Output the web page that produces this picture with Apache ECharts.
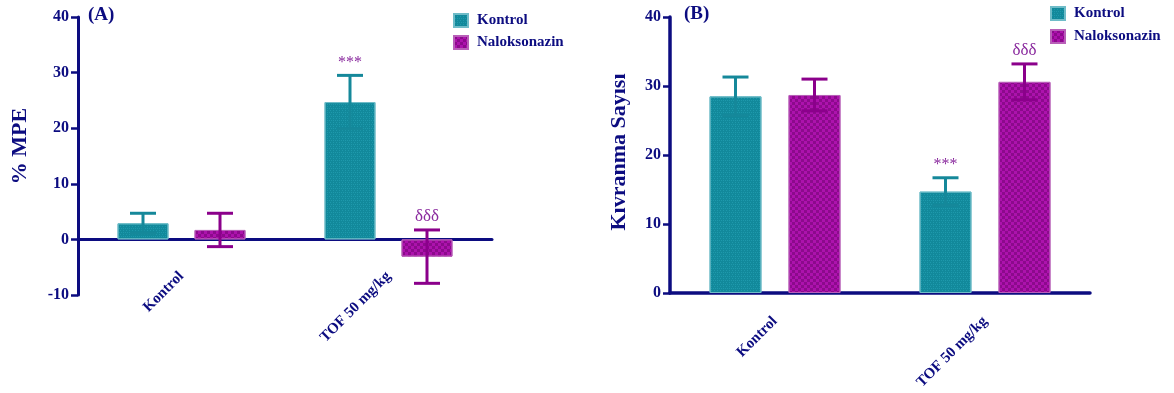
<!DOCTYPE html>
<html>
<head>
<meta charset="utf-8">
<script src="https://cdn.jsdelivr.net/npm/echarts@6/dist/echarts.min.js"></script>
<style>html,body{margin:0;padding:0;background:#fff}#c{width:1174px;height:393px}</style>
</head>
<body>
<div id="c"></div>
<script>
const categories = ['Kontrol', 'TOF 50 mg/kg'];
const seriesNames = ['Kontrol', 'Naloksonazin'];
// Panel A: % MPE
const mpeKontrol = [2.9, 24.7];
const mpeKontrolErr = [1.8, 4.8];
const mpeNalokson = [1.7, -3.1];
const mpeNaloksonErr = [3.0, 4.8];
const mpeSigKontrol = ['', '***'];
const mpeSigNalokson = ['', 'δδδ'];
// Panel B: Kıvranma Sayısı
const kivKontrol = [28.5, 14.7];
const kivKontrolErr = [2.8, 2.0];
const kivNalokson = [28.7, 30.6];
const kivNaloksonErr = [2.3, 2.6];
const kivSigKontrol = ['', '***'];
const kivSigNalokson = ['', 'δδδ'];
const yTicksA = [-10, 0, 10, 20, 30, 40];
const yTicksB = [0, 10, 20, 30, 40];

const NAVY = '#0c0c80';
const TEAL = '#12899b';
const MAG = '#8c0a8c';
const FONT = "'Liberation Serif', 'DejaVu Serif', serif";

const tealDecal = { symbol: 'rect', symbolSize: 1, color: 'rgba(40,165,185,0.55)',
  dashArrayX: [[1, 2], [0, 1, 1, 1, 1, 0]], dashArrayY: [1, 1], rotation: 0 };
const magDecal = { symbol: 'rect', symbolSize: 1, color: '#ad12ad',
  dashArrayX: [[3, 3], [0, 3, 3, 0]], dashArrayY: [3, 0], rotation: 0 };

const BW_A = 51, GAP_A = 26, BW_B = 52, GAP_B = 27;

function errSeries(name, axisIdx, vals, errs, sig, offset, color, sigSize) {
  return {
    type: 'custom', name: name, xAxisIndex: axisIdx, yAxisIndex: axisIdx, z: 5,
    silent: true,
    data: vals.map((v, i) => [i, v, errs[i]]),
    renderItem: function (params, api) {
      const i = api.value(0), v = api.value(1), e = api.value(2);
      const s = sig[i];
      const c = api.coord([i, v]);
      const hi = api.coord([i, v + e]);
      const lo = api.coord([i, v - e]);
      const x = c[0] + offset;
      const st = { stroke: color, lineWidth: 3 };
      const children = [
        { type: 'line', shape: { x1: x, y1: hi[1], x2: x, y2: lo[1] }, style: st },
        { type: 'line', shape: { x1: x - 13, y1: hi[1], x2: x + 13, y2: hi[1] }, style: st },
        { type: 'line', shape: { x1: x - 13, y1: lo[1], x2: x + 13, y2: lo[1] }, style: st }
      ];
      if (s) {
        children.push({ type: 'text', x: x, y: hi[1] - 13,
          style: { text: s, fill: '#8a2a9e', align: 'center', verticalAlign: 'middle',
            font: sigSize + 'px ' + FONT } });
      }
      return { type: 'group', children: children };
    }
  };
}

const axisLabelY = { color: NAVY, fontFamily: FONT, fontWeight: 'bold', fontSize: 16, margin: 9 };
const axisLabelX = { color: NAVY, fontFamily: FONT, fontWeight: 'bold', fontSize: 15, rotate: 45, interval: 0 };

const option = {
  animation: false,
  backgroundColor: '#fff',
  grid: [
    { left: 78, top: 17, width: 414, height: 278 },
    { left: 670, top: 17, width: 420, height: 276 }
  ],
  xAxis: [
    { type: 'category', gridIndex: 0, data: categories,
      axisLine: { onZero: true, lineStyle: { color: NAVY, width: 3 } },
      axisTick: { alignWithLabel: true, length: 7, lineStyle: { color: NAVY, width: 3 } },
      axisLabel: Object.assign({}, axisLabelX, { margin: -21 }) },
    { type: 'category', gridIndex: 1, data: categories,
      axisLine: { lineStyle: { color: NAVY, width: 3.5 } },
      axisTick: { alignWithLabel: true, length: 7, lineStyle: { color: NAVY, width: 3 } },
      axisLabel: Object.assign({}, axisLabelX, { margin: 26 }) }
  ],
  yAxis: [
    { type: 'value', gridIndex: 0, min: yTicksA[0], max: yTicksA[yTicksA.length - 1], interval: 10,
      splitLine: { show: false },
      axisLine: { show: true, onZero: false, lineStyle: { color: NAVY, width: 3 } },
      axisTick: { show: true, length: 7, lineStyle: { color: NAVY, width: 2.5 } },
      axisLabel: axisLabelY },
    { type: 'value', gridIndex: 1, min: yTicksB[0], max: yTicksB[yTicksB.length - 1], interval: 10,
      splitLine: { show: false },
      axisLine: { show: true, onZero: false, lineStyle: { color: NAVY, width: 3.5 } },
      axisTick: { show: true, length: 7, lineStyle: { color: NAVY, width: 2.5 } },
      axisLabel: axisLabelY }
  ],
  legend: [
    { data: seriesNames, orient: 'vertical', left: 448, top: 8, itemWidth: 14, itemHeight: 13, itemGap: 7,
      icon: 'rect', selectedMode: false,
      textStyle: { color: NAVY, fontFamily: FONT, fontWeight: 'bold', fontSize: 15, padding: [0, 0, 0, 4] } },
    { data: seriesNames, orient: 'vertical', left: 1045, top: 1, itemWidth: 14, itemHeight: 13, itemGap: 8,
      icon: 'rect', selectedMode: false,
      textStyle: { color: NAVY, fontFamily: FONT, fontWeight: 'bold', fontSize: 15, padding: [0, 0, 0, 4] } }
  ],
  graphic: [
    { type: 'text', x: 88, y: 15, style: { text: '(A)', fill: NAVY, verticalAlign: 'middle', font: 'bold 19px ' + FONT } },
    { type: 'text', x: 684, y: 14, style: { text: '(B)', fill: NAVY, verticalAlign: 'middle', font: 'bold 19px ' + FONT } },
    { type: 'text', x: 20, y: 146, rotation: Math.PI / 2,
      style: { text: '% MPE', fill: NAVY, align: 'center', verticalAlign: 'middle', font: 'bold 22px ' + FONT } },
    { type: 'text', x: 619, y: 152, rotation: Math.PI / 2,
      style: { text: 'Kıvranma Sayısı', fill: NAVY, align: 'center', verticalAlign: 'middle', font: 'bold 22px ' + FONT } }
  ],
  series: [
    { name: 'Kontrol', type: 'bar', xAxisIndex: 0, yAxisIndex: 0, data: mpeKontrol,
      barWidth: BW_A, barGap: (GAP_A / BW_A * 100) + '%',
      itemStyle: { color: TEAL, decal: tealDecal, borderColor: '#6fbcc8', borderWidth: 1 } },
    { name: 'Naloksonazin', type: 'bar', xAxisIndex: 0, yAxisIndex: 0, data: mpeNalokson,
      barWidth: BW_A, barGap: (GAP_A / BW_A * 100) + '%',
      itemStyle: { color: MAG, decal: magDecal, borderColor: '#b860b8', borderWidth: 1 } },
    { name: 'Kontrol', type: 'bar', xAxisIndex: 1, yAxisIndex: 1, data: kivKontrol,
      barWidth: BW_B, barGap: (GAP_B / BW_B * 100) + '%',
      itemStyle: { color: TEAL, decal: tealDecal, borderColor: '#6fbcc8', borderWidth: 1 } },
    { name: 'Naloksonazin', type: 'bar', xAxisIndex: 1, yAxisIndex: 1, data: kivNalokson,
      barWidth: BW_B, barGap: (GAP_B / BW_B * 100) + '%',
      itemStyle: { color: MAG, decal: magDecal, borderColor: '#b860b8', borderWidth: 1 } },
    errSeries('errA1', 0, mpeKontrol, mpeKontrolErr, mpeSigKontrol, -(BW_A + GAP_A) / 2, '#15889a', 16),
    errSeries('errA2', 0, mpeNalokson, mpeNaloksonErr, mpeSigNalokson, (BW_A + GAP_A) / 2, '#8b008b', 17),
    errSeries('errB1', 1, kivKontrol, kivKontrolErr, kivSigKontrol, -(BW_B + GAP_B) / 2, '#15889a', 16),
    errSeries('errB2', 1, kivNalokson, kivNaloksonErr, kivSigNalokson, (BW_B + GAP_B) / 2, '#8b008b', 17)
  ]
};
const chart = echarts.init(document.getElementById('c'), null, { renderer: 'canvas' });
chart.setOption(option);
</script>
</body>
</html>
